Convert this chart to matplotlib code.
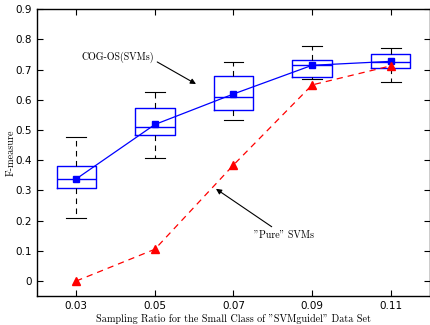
import numpy as np
import matplotlib
matplotlib.use("Agg")
import matplotlib.pyplot as plt

# Sampling ratios (x categories)
ratios = ['0.03', '0.05', '0.07', '0.09', '0.11']

# COG-OS(SVMs) box statistics
whisker_low = [0.210, 0.406, 0.533, 0.668, 0.660]
box_low = [0.307, 0.484, 0.566, 0.674, 0.704]
medians = [0.337, 0.511, 0.608, 0.715, 0.726]
box_high = [0.381, 0.571, 0.677, 0.731, 0.753]
whisker_high = [0.475, 0.627, 0.726, 0.779, 0.771]
means = [0.338, 0.518, 0.619, 0.714, 0.727]

# "Pure" SVMs
pure_svm = [0.0, 0.105, 0.384, 0.649, 0.712]

pos = np.arange(1, len(ratios) + 1)

stats = []
for i in range(len(ratios)):
    stats.append({'whislo': whisker_low[i], 'q1': box_low[i], 'med': medians[i],
                  'q3': box_high[i], 'whishi': whisker_high[i], 'fliers': []})

fig = plt.figure(figsize=(4.3, 3.25), dpi=100)
ax = fig.add_axes([0.086, 0.089, 0.914, 0.883])

ax.bxp(stats, positions=pos, widths=0.5, showfliers=False,
       boxprops=dict(color='#0000ff', linewidth=1.0),
       medianprops=dict(color='#0000ff', linewidth=1.0),
       whiskerprops=dict(color='black', linewidth=0.8, linestyle=(0, (5, 4))),
       capprops=dict(color='black', linewidth=0.8),
       capwidths=0.25)

ax.plot(pos, means, color='#0000ff', linewidth=0.9, marker='s', markersize=5, zorder=5)
ax.plot(pos, pure_svm, color='red', linewidth=0.9, linestyle=(0, (5, 4)),
        marker='^', markersize=6, zorder=5)

ax.set_xlim(0.5, 5.5)
ax.set_ylim(-0.05, 0.9)
ax.set_xticks(pos)
ax.set_xticklabels(ratios)
ax.set_yticks(np.arange(0, 0.91, 0.1))
ax.set_yticklabels(['0'] + ['%.1f' % v for v in np.arange(0.1, 0.91, 0.1)])
ax.tick_params(direction='in', top=True, right=True, labelsize=7.5, length=4, width=0.8)
for s in ax.spines.values():
    s.set_linewidth(1.0)

ax.set_xlabel('Sampling Ratio for the Small Class of "SVMguidel" Data Set',
              family='cmr10', fontsize=7.3, labelpad=2)
ax.set_ylabel('F-measure', family='cmr10', fontsize=7.3)
ax.yaxis.set_label_coords(-0.054, 0.5)

# annotations
ax.text(1.53, 0.742, 'COG-OS(SVMs)', family='cmr10', fontsize=7.2,
        ha='center', va='center')
ax.annotate('', xy=(2.523, 0.652), xytext=(2.03, 0.725),
            arrowprops=dict(arrowstyle='-|>', color='black', lw=0.8,
                            mutation_scale=8, shrinkA=0, shrinkB=0))
ax.annotate('"Pure" SVMs', xy=(2.777, 0.305), xytext=(3.26, 0.152),
            family='cmr10', fontsize=7.2, ha='left', va='center',
            arrowprops=dict(arrowstyle='-|>', color='black', lw=0.8,
                            mutation_scale=8, shrinkA=1, shrinkB=0))

fig.savefig('out.png', dpi=100)
